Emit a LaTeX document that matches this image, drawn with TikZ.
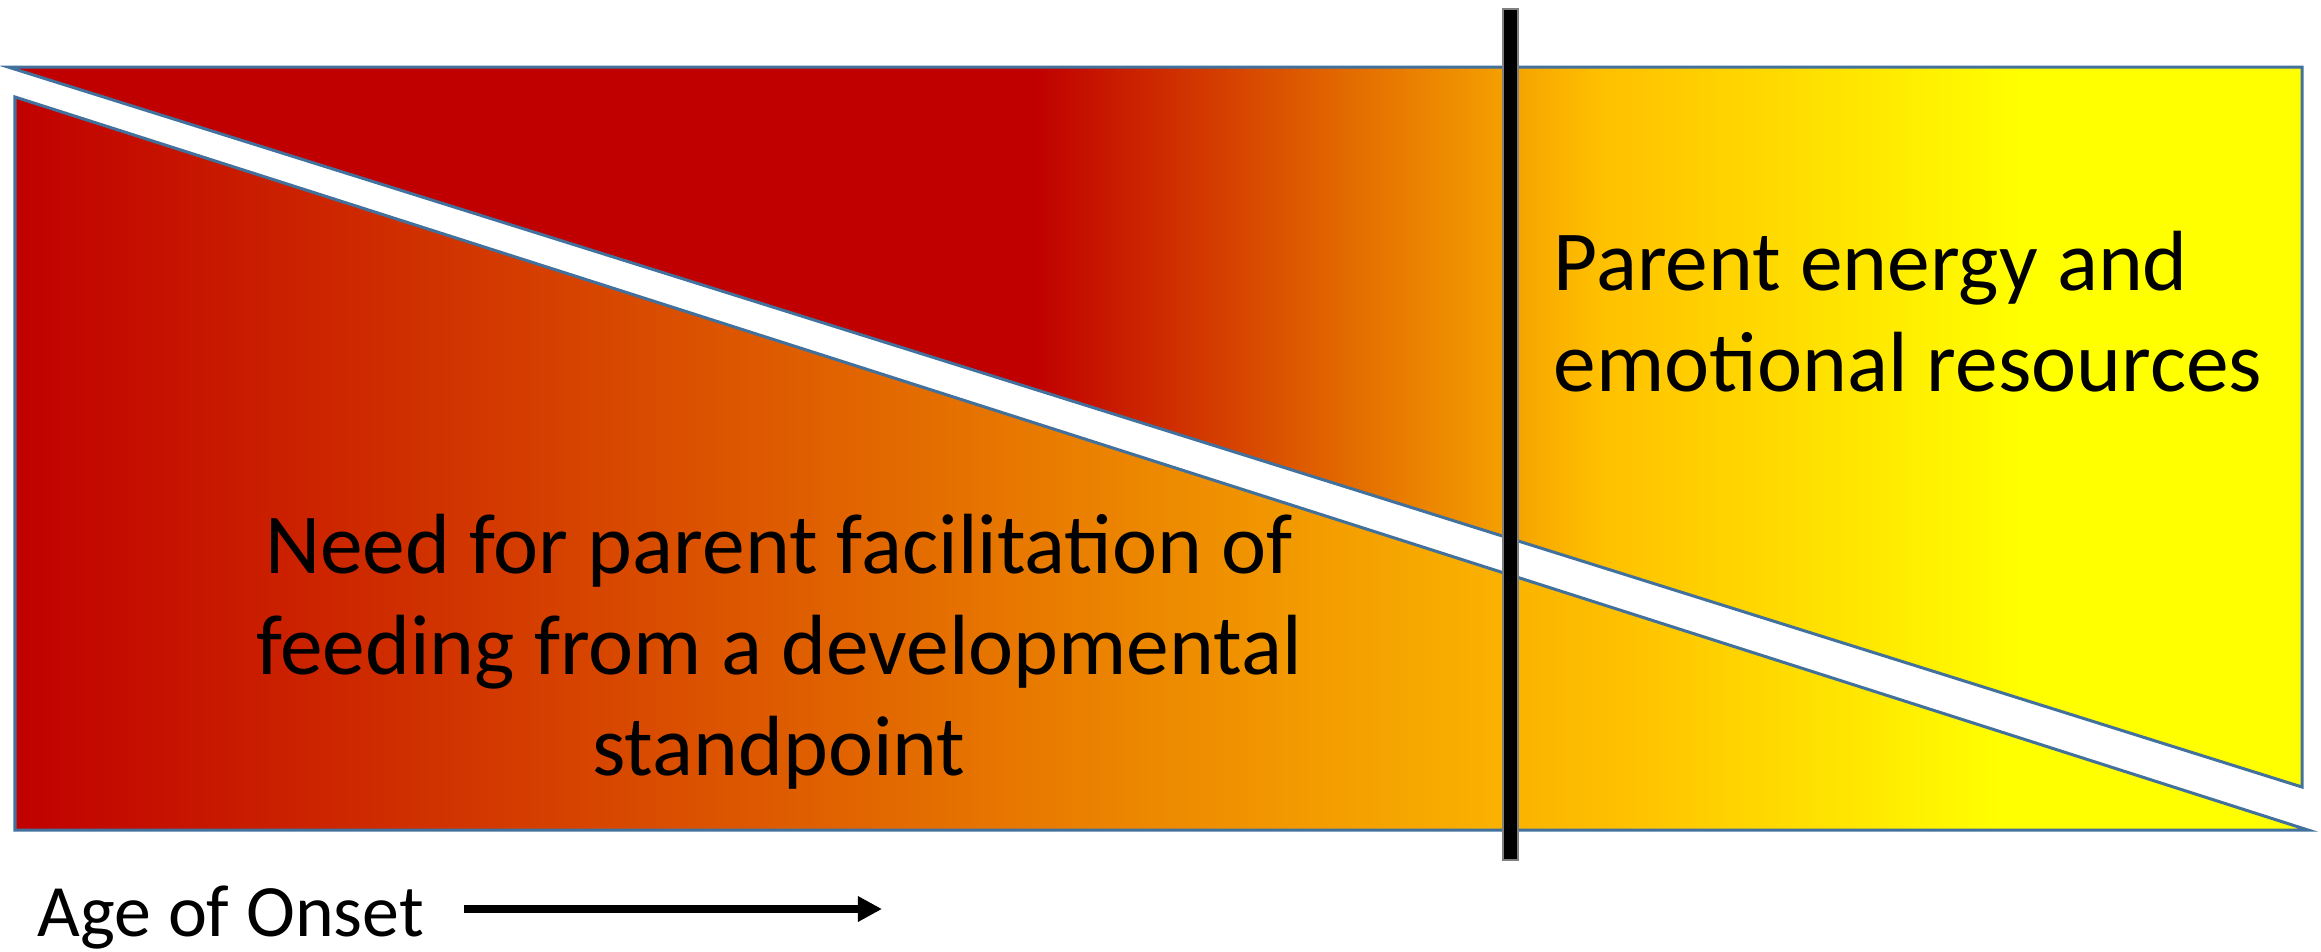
\documentclass[tikz,border=0pt]{standalone}
\usepackage{fontspec}
\setmainfont{Carlito}
\usepackage{xcolor}
\usepackage{tikz}
\usetikzlibrary{arrows.meta}
\usetikzlibrary{positioning}
\definecolor{deepred}{HTML}{C00000}
\definecolor{amber}{HTML}{FFC000}
\definecolor{lemon}{HTML}{FFFF00}
\definecolor{edgeblue}{HTML}{41719C}
\pgfdeclarehorizontalshading{lowerfade}{100bp}{color(0bp)=(deepred); color(25bp)=(deepred); color(60bp)=(amber); color(68.3bp)=(lemon); color(100bp)=(lemon)}
\pgfdeclarehorizontalshading{upperfade}{100bp}{color(0bp)=(deepred); color(47.4bp)=(deepred); color(59.7bp)=(amber); color(68.9bp)=(lemon); color(100bp)=(lemon)}

\begin{document}
\begin{tikzpicture}[
  x=0.01cm, y=-0.01cm,
  wedge/.style={draw=edgeblue, line width=0.03cm},
  bigtext/.style={font=\fontsize{24.3pt}{28.7pt}\selectfont, inner sep=0pt},
  onsettext/.style={font=\fontsize{21pt}{25pt}\selectfont, inner sep=0pt}]
  \useasboundingbox (0,0) rectangle (2321,951);
  % the two wedges
  \path[wedge, shading=upperfade] (8,67) -- (2302,67) -- (2302,787) -- cycle;
  \path[wedge, shading=lowerfade] (15,97) -- (15,830) -- (2308,830) -- cycle;
  % cut-off bar
  \fill[black, draw=gray, line width=0.4pt] (1503,9) rectangle (1518,860);
  % texts
  \node[bigtext, align=left, anchor=west] (energy) at (1553,312)
    {Parent energy and\\emotional resources};
  \node[bigtext, align=center] (need) at (779,652)
    {Need for parent facilitation of\\feeding from a developmental\\standpoint};
  \node[onsettext, anchor=base west] (age) at (37,936) {Age of Onset};
  \coordinate (onsetstart) at (464,909);
  \coordinate (onsetend) at (882,909);
  \draw[line width=0.08cm, -{Triangle[length=0.24cm,width=0.24cm]}] (onsetstart) -- (onsetend);
\end{tikzpicture}
\end{document}
